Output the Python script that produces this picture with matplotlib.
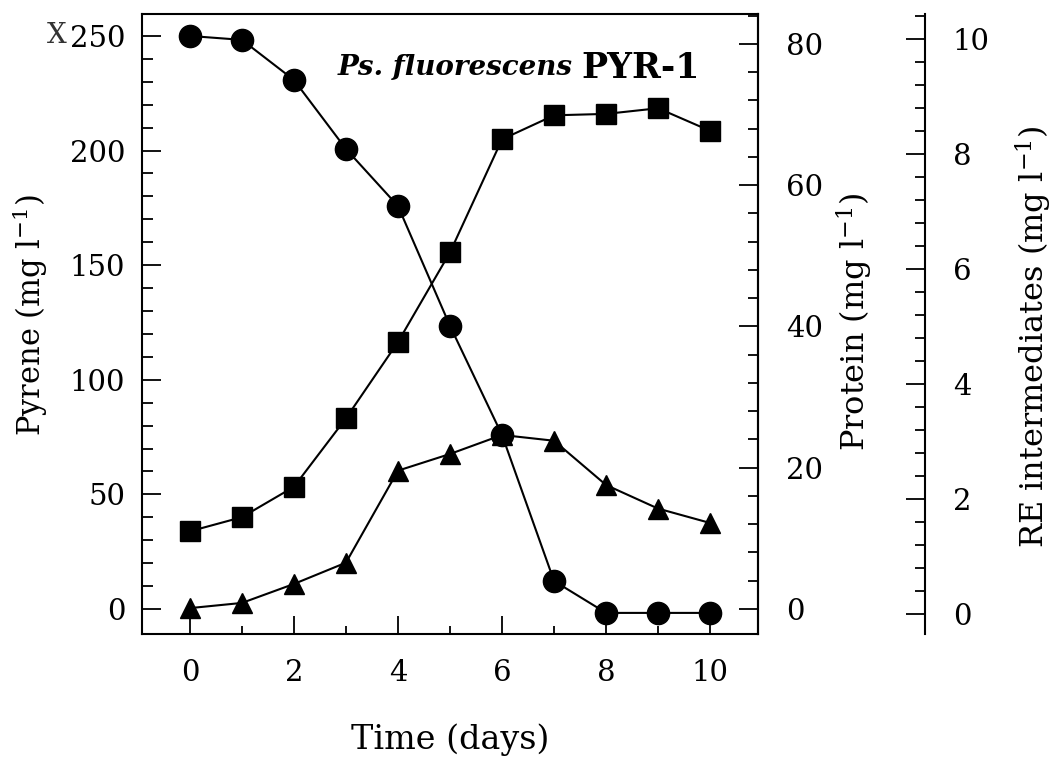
import matplotlib
matplotlib.use('Agg')
import matplotlib.pyplot as plt
from matplotlib.ticker import MultipleLocator, FixedLocator

plt.rcParams['font.family'] = ['DejaVu Serif']
plt.rcParams['mathtext.fontset'] = 'dejavuserif'

# data
days = [0, 1, 2, 3, 4, 5, 6, 7, 8, 9, 10]
pyrene = [250, 248.3, 230.8, 200.7, 175.8, 123.5, 75.9, 12.2, -1.7, -1.7, -1.7]
protein = [11.0, 13.0, 17.3, 27.0, 37.8, 50.5, 66.5, 69.9, 70.1, 70.9, 67.7]
re_int = [0.10, 0.19, 0.52, 0.89, 2.49, 2.78, 3.11, 3.01, 2.24, 1.83, 1.58]

x_ticks = [0, 2, 4, 6, 8, 10]
pyr_ticks = [0, 50, 100, 150, 200, 250]
prot_ticks = [0, 20, 40, 60, 80]
re_ticks = [0, 2, 4, 6, 8, 10]

fig = plt.figure(figsize=(10.56, 7.59), dpi=100)
ax = fig.add_axes([0.1345, 0.1647, 0.5833, 0.8169])
ax2 = ax.twinx()
ax3 = ax.twinx()

lw = 1.5
ax.plot(days, pyrene, color='black', lw=lw, marker='o', ms=16, zorder=3)
ax2.plot(days, protein, color='black', lw=lw, marker='s', ms=14, zorder=3)
ax3.plot(days, re_int, color='black', lw=lw, marker='^', ms=15, zorder=3)

ax.set_xlim(-0.92, 10.92)
ax.set_ylim(-10.9, 259.6)
ax2.set_ylim(-3.54, 84.25)
ax3.set_ylim(-0.35, 10.43)

ax.set_xticks(x_ticks)
ax.set_yticks(pyr_ticks)
ax2.set_yticks(prot_ticks)
ax3.set_yticks(re_ticks)
ax.xaxis.set_minor_locator(MultipleLocator(1))
ax.yaxis.set_minor_locator(FixedLocator(list(range(0, 251, 10))))
ax2.yaxis.set_minor_locator(MultipleLocator(4))
ax3.yaxis.set_minor_locator(MultipleLocator(0.4))

fs = 21
ax.tick_params(axis='y', which='major', direction='in', length=14, width=1.3,
               labelsize=fs, pad=12, right=False)
ax.tick_params(axis='y', which='minor', direction='in', length=8, width=1.3, right=False)
ax.tick_params(axis='x', which='major', direction='in', length=13, width=1.3,
               labelsize=fs, pad=18, top=False)
ax.tick_params(axis='x', which='minor', direction='in', length=6, width=1.3, top=False)
for a in (ax2, ax3):
    a.tick_params(axis='y', which='major', direction='in', length=14, width=1.3,
                  labelsize=fs, pad=20)
    a.tick_params(axis='y', which='minor', direction='in', length=7, width=1.3)

for s in ax.spines.values():
    s.set_linewidth(1.5)
ax2.spines['right'].set_linewidth(1.5)
ax3.spines['right'].set_position(('axes', 1.2711))
ax3.spines['right'].set_linewidth(1.5)
for side in ('top', 'bottom', 'left'):
    ax3.spines[side].set_visible(False)
    ax2.spines[side].set_visible(False)

ax.set_ylabel(r'Pyrene (mg l$^{\mathregular{-1}}$)', fontsize=22, va='center')
ax.yaxis.set_label_coords(-0.182, 0.515)
ax2.set_ylabel(r'Protein (mg l$^{\mathregular{-1}}$)', fontsize=23, va='center')
ax2.yaxis.set_label_coords(1.157, 0.503)
ax3.set_ylabel(r'RE intermediates (mg l$^{\mathregular{-1}}$)', fontsize=23, va='center')
ax3.yaxis.set_label_coords(1.448, 0.479)
ax.set_xlabel('Time (days)', fontsize=24, va='center')
ax.xaxis.set_label_coords(0.5, -0.171)

# title inside the frame: italic species name followed by strain
ax.text(0.6997, 0.913, 'Ps. fluorescens', transform=ax.transAxes, fontsize=20,
        fontstyle='italic', fontweight='bold', ha='right', va='center')
ax.text(0.7127, 0.913, 'PYR-1', transform=ax.transAxes, fontsize=25,
        fontweight='bold', ha='left', va='center')

# pen mark in the scan's corner
fig.text(0.054, 0.953, 'X', fontsize=20, color='#333333', fontweight='light',
         ha='center', va='center')

fig.savefig('out.png', dpi=100)
